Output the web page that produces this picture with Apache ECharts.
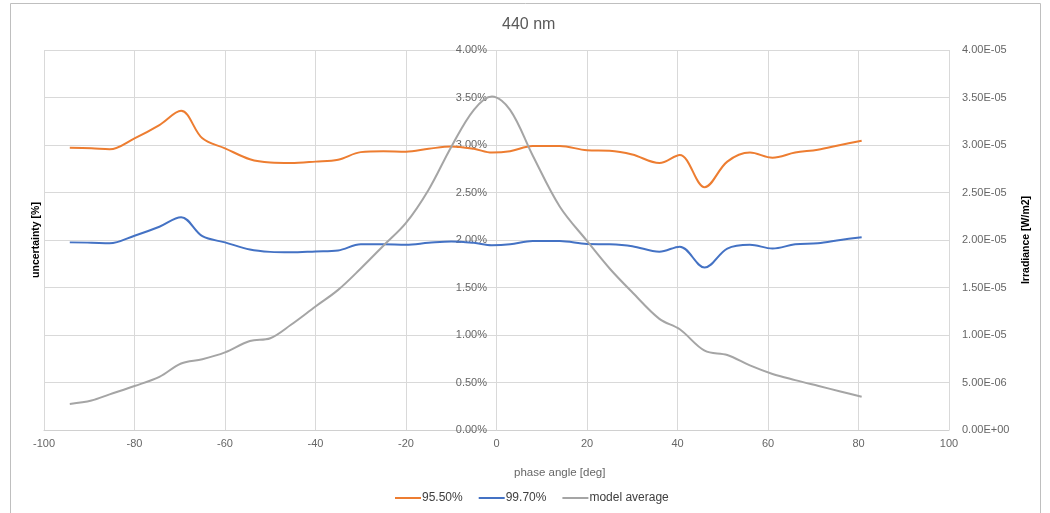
<!DOCTYPE html>
<html>
<head>
<meta charset="utf-8">
<script src="https://cdn.jsdelivr.net/npm/echarts@6/dist/echarts.min.js"></script>
<style>
html,body{margin:0;padding:0;background:#fff;}
#chart{width:1050px;height:513px;}
</style>
</head>
<body>
<div id="chart"></div>
<script>
// phase angle [deg]
const phase = [-94.3, -89.5, -85.5, -80, -74.5, -69.7, -65, -60, -54.5, -50, -45.5, -40, -35, -30, -25, -20, -15, -10, -5, -1, 3, 8, 14, 20, 25, 30, 36, 40.5, 46, 51, 56, 61, 66, 71, 76, 80.7];
// uncertainty [%] at 95.50 %
const unc955 = [2.97, 2.965, 2.955, 3.07, 3.21, 3.36, 3.07, 2.965, 2.85, 2.815, 2.81, 2.825, 2.845, 2.925, 2.935, 2.93, 2.96, 2.985, 2.96, 2.92, 2.935, 2.99, 2.99, 2.945, 2.94, 2.90, 2.81, 2.895, 2.555, 2.825, 2.92, 2.866, 2.92, 2.95, 3.0, 3.045];
// uncertainty [%] at 99.70 %
const unc997 = [1.975, 1.972, 1.965, 2.045, 2.14, 2.24, 2.04, 1.975, 1.90, 1.875, 1.87, 1.88, 1.89, 1.955, 1.955, 1.95, 1.97, 1.985, 1.97, 1.945, 1.955, 1.99, 1.99, 1.958, 1.955, 1.935, 1.877, 1.93, 1.71, 1.91, 1.95, 1.91, 1.955, 1.965, 2.0, 2.03];
// model average irradiance [W/m2]
const modelAvg = [2.74e-6, 3.10e-6, 3.75e-6, 4.63e-6, 5.60e-6, 7.00e-6, 7.45e-6, 8.17e-6, 9.37e-6, 9.66e-6, 1.105e-5, 1.30e-5, 1.475e-5, 1.70e-5, 1.94e-5, 2.18e-5, 2.53e-5, 2.98e-5, 3.37e-5, 3.51e-5, 3.37e-5, 2.89e-5, 2.35e-5, 1.99e-5, 1.70e-5, 1.45e-5, 1.17e-5, 1.06e-5, 8.35e-6, 7.90e-6, 6.80e-6, 5.90e-6, 5.25e-6, 4.65e-6, 4.06e-6, 3.50e-6];

const xTicks = {min: -100, max: 100, interval: 20};
const leftTicks = {min: 0, max: 4, interval: 0.5};
const rightTicks = {min: 0, max: 4e-5, interval: 5e-6};

function sci(v) {
  if (Math.abs(v) < 1e-20) return '0.00E+00';
  let e = Math.floor(Math.log10(Math.abs(v)));
  let m = v / Math.pow(10, e);
  if (Math.round(m * 100) / 100 >= 10) { m /= 10; e++; }
  return m.toFixed(2) + 'E' + (e < 0 ? '-' : '+') + String(Math.abs(e)).padStart(2, '0');
}

const FONT = '"Liberation Sans", Arial, sans-serif';
const pairs = arr => phase.map((p, i) => [p, arr[i]]);

const chart = echarts.init(document.getElementById('chart'), null, {renderer: 'canvas'});
chart.setOption({
  animation: false,
  backgroundColor: '#fff',
  textStyle: {fontFamily: FONT},
  title: {
    text: '440 nm', left: 502, top: 17, padding: 0,
    textStyle: {fontSize: 16, fontWeight: 'normal', color: '#595959', fontFamily: FONT}
  },
  grid: {left: 44, right: 101, top: 50, bottom: 83, containLabel: false},
  legend: {
    left: 395, top: 492, padding: 0, itemGap: 16, itemWidth: 26, itemHeight: 2,
    icon: 'rect',
    textStyle: {fontSize: 12, color: '#404040', fontFamily: FONT, padding: [0, 0, 0, -4]},
    data: ['95.50%', '99.70%', 'model average']
  },
  xAxis: {
    type: 'value', min: xTicks.min, max: xTicks.max, interval: xTicks.interval,
    axisLine: {onZero: false, lineStyle: {color: '#d0d0d0', width: 1}},
    axisTick: {show: false},
    axisLabel: {fontSize: 11, color: '#666666', margin: 8, fontFamily: FONT},
    splitLine: {show: true, lineStyle: {color: '#d9d9d9', width: 1}}
  },
  yAxis: [
    {
      type: 'value', position: 'left', min: leftTicks.min, max: leftTicks.max, interval: leftTicks.interval,
      name: 'uncertainty [%]', nameLocation: 'middle', nameRotate: 90, nameGap: 2,
      nameTextStyle: {fontSize: 10.5, fontWeight: 'bold', color: '#000', fontFamily: FONT},
      axisLine: {show: false}, axisTick: {show: false},
      axisLabel: {fontSize: 11, color: '#666666', margin: -443, fontFamily: FONT,
        formatter: v => v.toFixed(2) + '%'},
      splitLine: {show: true, lineStyle: {color: '#d9d9d9', width: 1}}
    },
    {
      type: 'value', position: 'right', min: rightTicks.min, max: rightTicks.max, interval: rightTicks.interval,
      name: 'Irradiance [W/m2]', nameLocation: 'middle', nameRotate: 90, nameGap: 70,
      nameTextStyle: {fontSize: 10.5, fontWeight: 'bold', color: '#000', fontFamily: FONT},
      axisLine: {show: false}, axisTick: {show: false},
      axisLabel: {fontSize: 11, color: '#666666', margin: 13, fontFamily: FONT, formatter: sci},
      splitLine: {show: false}
    }
  ],
  graphic: [
    {type: 'rect', silent: true, shape: {x: 10.5, y: 3.5, width: 1030, height: 530},
      style: {fill: 'none', stroke: '#bfbfbf', lineWidth: 1}},
    {type: 'text', silent: true, left: 514, top: 467,
      style: {text: 'phase angle [deg]', fontSize: 11.5, fill: '#666666', fontFamily: FONT}}
  ],
  series: [
    {name: '95.50%', type: 'line', yAxisIndex: 0, data: pairs(unc955), smooth: 0.35,
      symbol: 'none', lineStyle: {color: '#ED7D31', width: 2}, itemStyle: {color: '#ED7D31'}},
    {name: '99.70%', type: 'line', yAxisIndex: 0, data: pairs(unc997), smooth: 0.35,
      symbol: 'none', lineStyle: {color: '#4472C4', width: 2}, itemStyle: {color: '#4472C4'}},
    {name: 'model average', type: 'line', yAxisIndex: 1, data: pairs(modelAvg), smooth: 0.35,
      symbol: 'none', lineStyle: {color: '#A5A5A5', width: 2}, itemStyle: {color: '#A5A5A5'}}
  ]
});
</script>
</body>
</html>
